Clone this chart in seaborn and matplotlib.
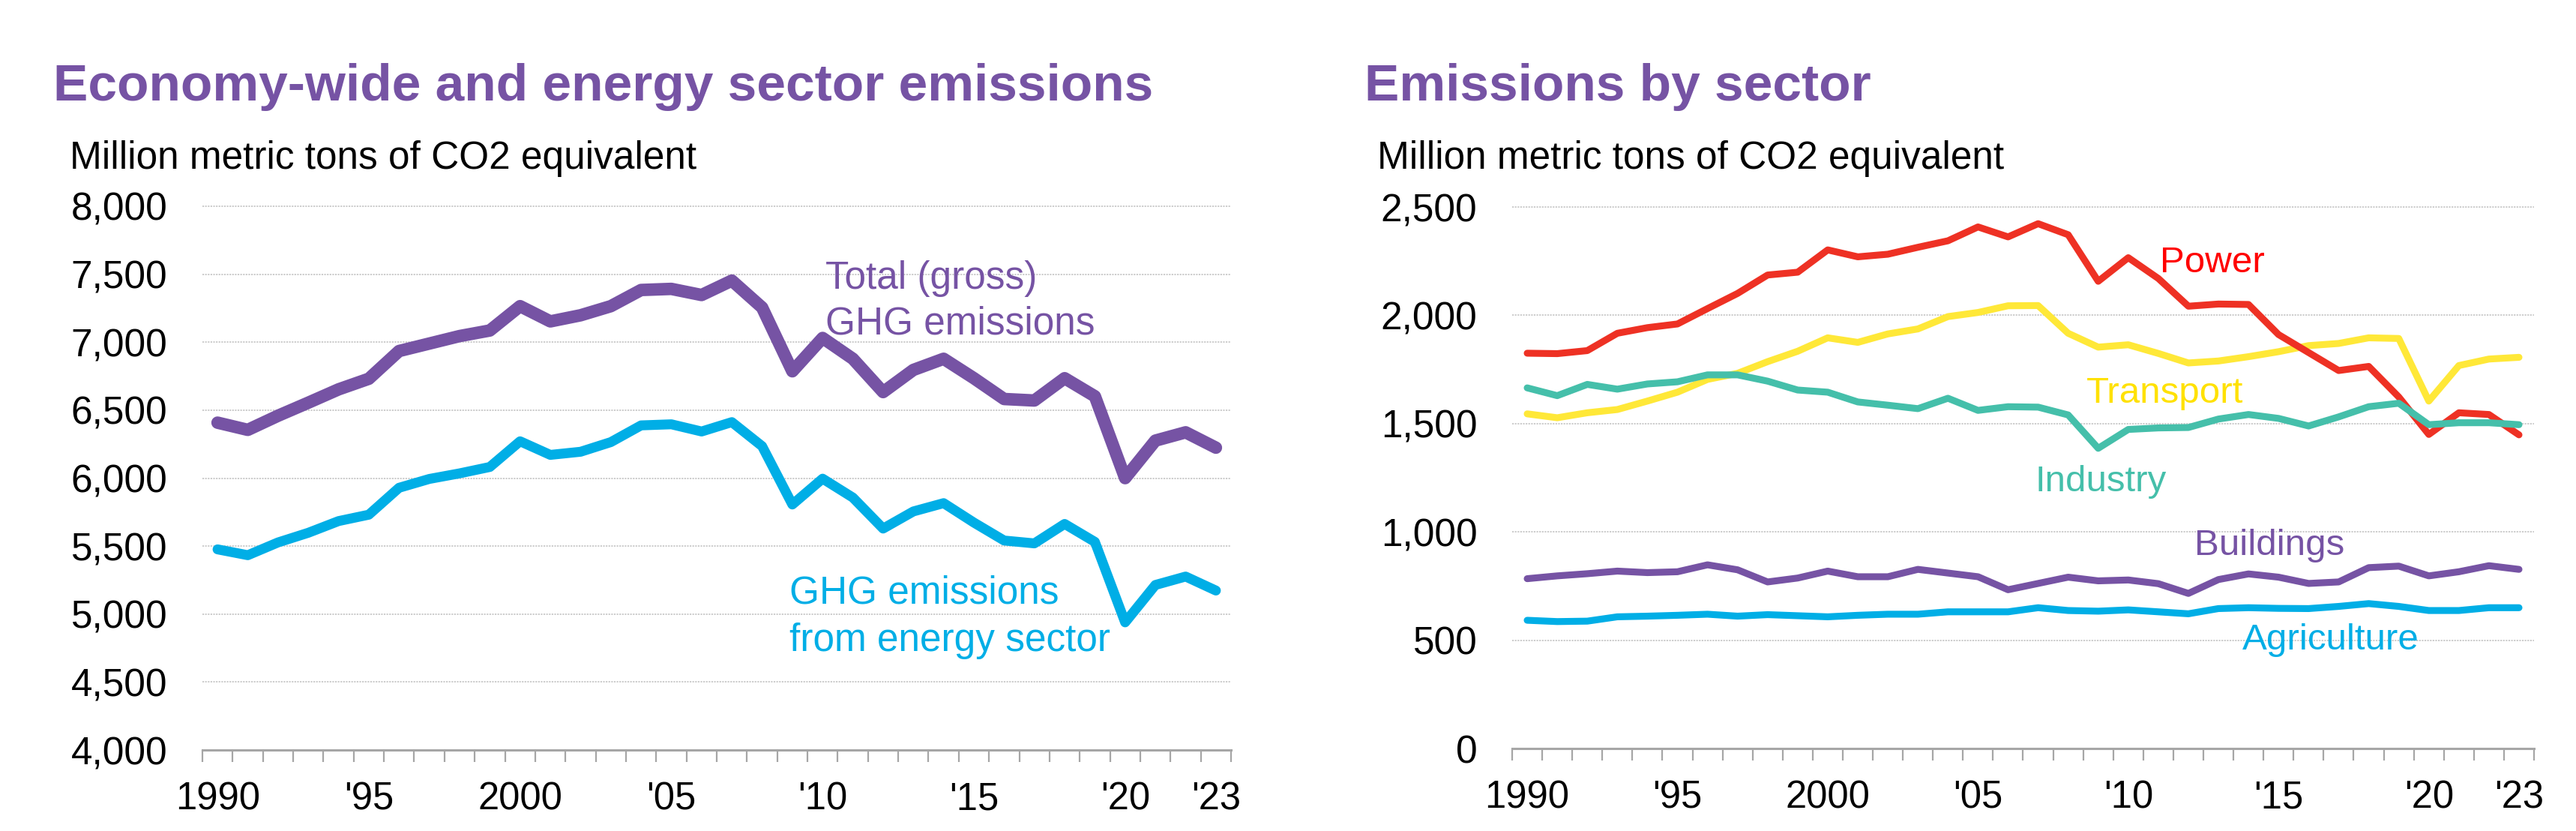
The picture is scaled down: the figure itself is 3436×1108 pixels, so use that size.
import matplotlib
matplotlib.use("Agg")
import matplotlib.pyplot as plt
from matplotlib.ticker import FixedLocator, FuncFormatter
import seaborn as sns
import pandas as pd

# ---------------- data ----------------
years = [1990, 1991, 1992, 1993, 1994, 1995, 1996, 1997, 1998, 1999,
         2000, 2001, 2002, 2003, 2004, 2005, 2006, 2007, 2008, 2009,
         2010, 2011, 2012, 2013, 2014, 2015, 2016, 2017, 2018, 2019,
         2020, 2021, 2022, 2023]

total_ghg = [6408, 6355, 6459, 6555, 6653, 6731, 6935, 6990, 7045, 7086,
             7265, 7153, 7198, 7265, 7384, 7392, 7347, 7453, 7255, 6786,
             7031, 6878, 6633, 6796, 6878, 6735, 6582, 6571, 6735, 6602,
             6000, 6276, 6337, 6224]
energy_ghg = [5476, 5433, 5527, 5598, 5684, 5731, 5929, 5994, 6035, 6082,
              6271, 6171, 6194, 6265, 6388, 6396, 6343, 6412, 6235, 5806,
              5996, 5857, 5629, 5755, 5816, 5673, 5541, 5520, 5663, 5531,
              4939, 5214, 5276, 5173]

power = [1825, 1823, 1837, 1917, 1943, 1960, 2031, 2101, 2186, 2199,
         2302, 2270, 2282, 2314, 2344, 2408, 2362, 2423, 2372, 2157,
         2266, 2170, 2042, 2052, 2050, 1911, 1828, 1745, 1764, 1623,
         1450, 1550, 1542, 1448]
transport = [1545, 1527, 1550, 1565, 1604, 1645, 1704, 1732, 1786, 1834,
             1896, 1875, 1914, 1937, 1994, 2013, 2044, 2045, 1917, 1853,
             1864, 1824, 1780, 1789, 1809, 1832, 1860, 1870, 1896, 1893,
             1604, 1768, 1798, 1806]
industry = [1665, 1629, 1681, 1659, 1683, 1693, 1725, 1725, 1696, 1655,
            1645, 1600, 1585, 1569, 1617, 1561, 1578, 1576, 1540, 1386,
            1473, 1480, 1482, 1521, 1542, 1524, 1489, 1531, 1578, 1594,
            1495, 1504, 1504, 1495]
buildings = [784, 797, 807, 819, 812, 816, 848, 825, 769, 787,
             819, 793, 793, 827, 810, 793, 733, 762, 791, 774,
             778, 761, 716, 780, 806, 791, 762, 769, 835, 842,
             797, 816, 844, 827]
agriculture = [592, 586, 588, 608, 611, 615, 620, 611, 618, 613,
               608, 615, 620, 620, 631, 631, 631, 650, 637, 634,
               640, 631, 622, 646, 650, 647, 646, 656, 669, 656,
               637, 637, 650, 650]

xtick_years = [1990, 1995, 2000, 2005, 2010, 2015, 2020, 2023]
xtick_labels = ["1990", "'95", "2000", "'05", "'10", "'15", "'20", "'23"]
left_yticks = [4000, 4500, 5000, 5500, 6000, 6500, 7000, 7500, 8000]
right_yticks = [0, 500, 1000, 1500, 2000, 2500]

title_left = "Economy-wide and energy sector emissions"
title_right = "Emissions by sector"
unit_text = "Million metric tons of CO2 equivalent"

# ---------------- style ----------------
sns.set_theme(style="white")
plt.rcParams["font.family"] = ["Liberation Sans", "DejaVu Sans"]

PURPLE = "#7653A4"
CYAN = "#00AEE6"
RED = "#EE3124"
YELLOW = "#FFE838"
TEAL = "#45BFAA"
GRAY = "#A6A6A6"

W, H = 3436, 1108
fig = plt.figure(figsize=(W / 100, H / 100), dpi=100)
fig.patch.set_facecolor("white")

def px_axes(x0, x1, y_top, y_bot):
    return fig.add_axes([x0 / W, (H - y_bot) / H, (x1 - x0) / W, (y_bot - y_top) / H])

axL = px_axes(270, 1642, 275, 1000)
axR = px_axes(2017, 3380, 276, 998)

# left panel
dfL = pd.DataFrame({"year": years, "Total": total_ghg, "Energy": energy_ghg})
sns.lineplot(data=dfL, x="year", y="Total", ax=axL, color=PURPLE, linewidth=12,
             solid_capstyle="round", zorder=4)
sns.lineplot(data=dfL, x="year", y="Energy", ax=axL, color=CYAN, linewidth=9.5,
             solid_capstyle="round", zorder=4)

# right panel
dfR = pd.DataFrame({"year": years, "Transport": transport, "Power": power,
                    "Industry": industry, "Buildings": buildings,
                    "Agriculture": agriculture})
dfR_long = dfR.melt(id_vars="year", var_name="sector", value_name="value")
sns.lineplot(data=dfR_long, x="year", y="value", hue="sector",
             hue_order=["Transport", "Power", "Industry", "Buildings", "Agriculture"],
             palette={"Transport": YELLOW, "Power": RED, "Industry": TEAL,
                      "Buildings": PURPLE, "Agriculture": CYAN},
             linewidth=6.6, ax=axR, legend=False, solid_capstyle="round", zorder=4)

def style_axis(ax, yticks):
    ax.set_xlim(years[0] - 0.5, years[-1] + 0.5)
    ax.set_ylim(yticks[0], yticks[-1])
    ax.set_xlabel("")
    ax.set_ylabel("")
    for s in ["top", "right", "left"]:
        ax.spines[s].set_visible(False)
    ax.spines["bottom"].set_color(GRAY)
    ax.spines["bottom"].set_linewidth(2.2)
    ax.spines["bottom"].set_zorder(5)
    ax.yaxis.set_major_locator(FixedLocator(yticks))
    ax.yaxis.set_major_formatter(FuncFormatter(lambda v, p: f"{int(v):,}"))
    ax.tick_params(axis="y", length=0, pad=33.5, labelsize=37, labelcolor="black")
    ax.xaxis.set_major_locator(FixedLocator(xtick_years))
    ax.set_xticklabels(xtick_labels)
    ax.tick_params(axis="x", which="major", length=0, pad=30, labelsize=36.5,
                   labelcolor="black")
    bounds = [y - 0.5 for y in years] + [years[-1] + 0.5]
    ax.xaxis.set_minor_locator(FixedLocator(bounds))
    ax.tick_params(axis="x", which="minor", length=11.5, width=1.6, color=GRAY,
                   direction="out", bottom=True)
    for v in yticks[1:]:
        ax.axhline(v, color="#C8C8C8", linewidth=1.3, linestyle=(0, (1.2, 0.8)),
                   zorder=1, clip_on=False)
    ax.grid(False)
    ax.set_facecolor("white")

style_axis(axL, left_yticks)
style_axis(axR, right_yticks)

# series labels
lab = dict(fontsize=37, ha="left", va="baseline")
axL.text(2010.1, 7393, "Total (gross)", color=PURPLE, **lab)
axL.text(2010.1, 7062, "GHG emissions", color=PURPLE, **lab)
axL.text(2008.9, 5076, "GHG emissions", color=CYAN, **lab)
axL.text(2008.9, 4728, "from energy sector", color=CYAN, **lab)

lab2 = dict(fontsize=35.5, ha="left", va="baseline")
axR.text(2011.05, 2199, "Power", color="#FF0000", **lab2)
axR.text(2008.6, 1596, "Transport", color="#FFE100", **lab2)
axR.text(2006.9, 1188, "Industry", color=TEAL, **lab2)
axR.text(2012.2, 893, "Buildings", color=PURPLE, **lab2)
axR.text(2013.8, 457, "Agriculture", color=CYAN, **lab2)

# titles and unit labels
fig.text(71 / W, (H - 134) / H, title_left, fontsize=50, fontweight="bold",
         color=PURPLE, ha="left", va="baseline")
fig.text(1820 / W, (H - 134) / H, title_right, fontsize=50, fontweight="bold",
         color=PURPLE, ha="left", va="baseline")
fig.text(93 / W, (H - 225) / H, unit_text, fontsize=37, color="black",
         ha="left", va="baseline")
fig.text(1837 / W, (H - 225) / H, unit_text, fontsize=37, color="black",
         ha="left", va="baseline")

fig.savefig("out.png", dpi=100, facecolor="white")
